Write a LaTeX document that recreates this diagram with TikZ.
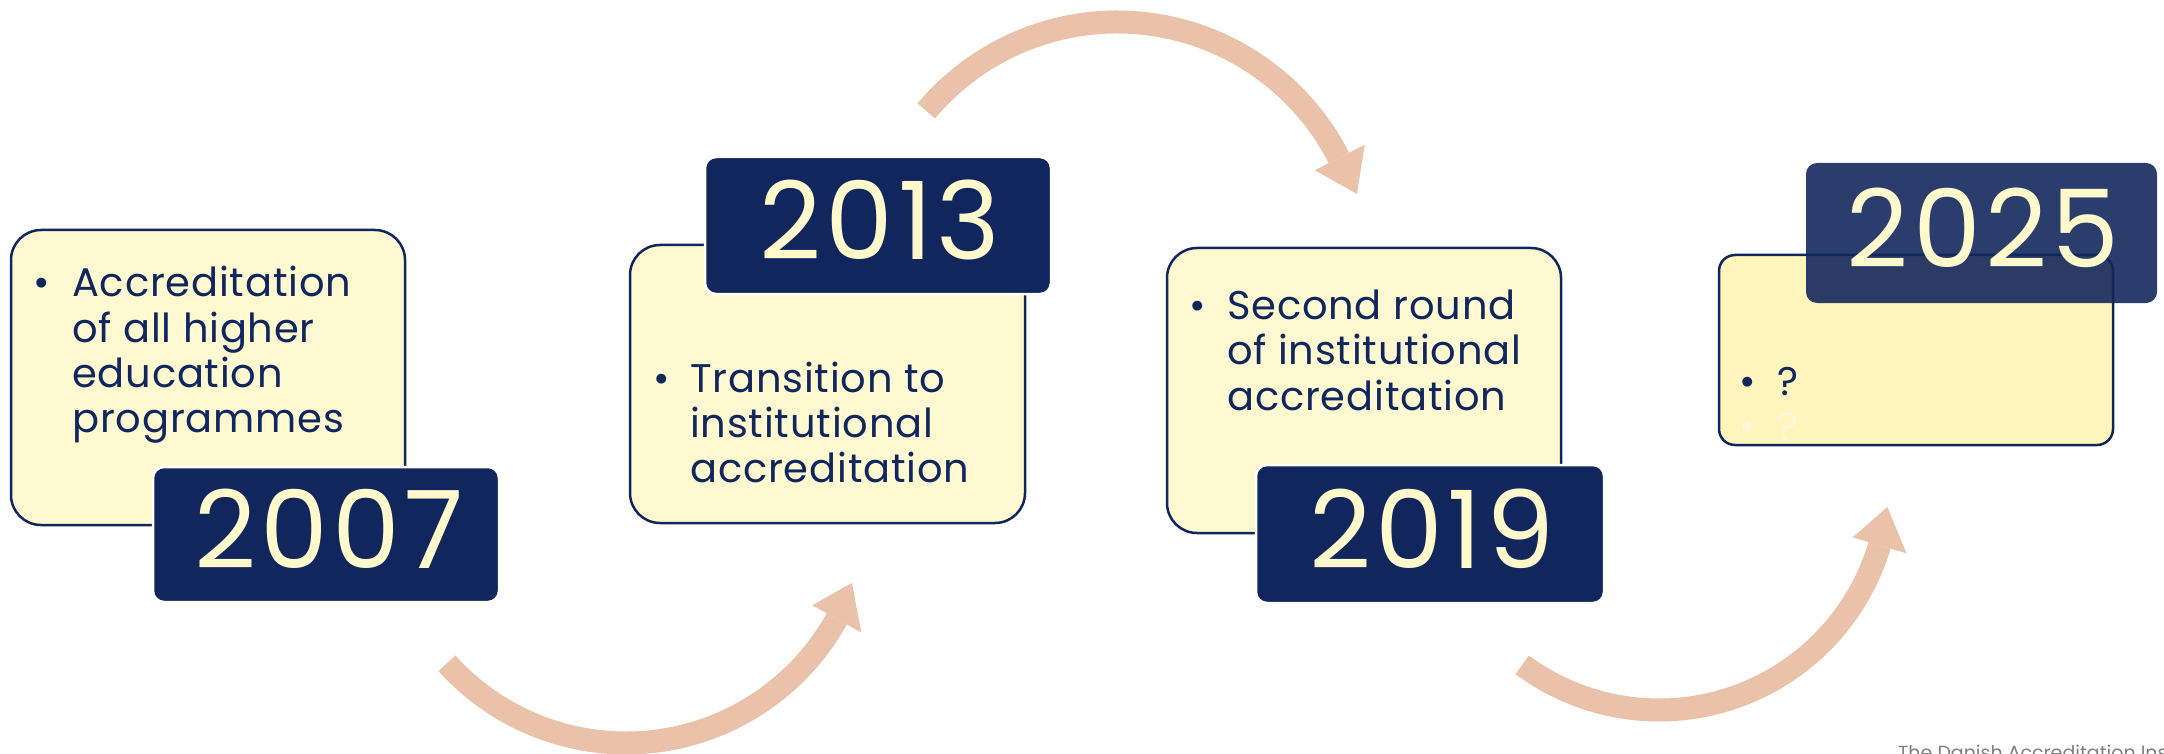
\documentclass[tikz,border=0pt]{standalone}
\usepackage{fontspec}
\setmainfont{Poppins}
\newfontfamily\bodyfont[LetterSpace=2]{Poppins}
\newfontfamily\yearfont[LetterSpace=4]{Poppins}
\usetikzlibrary{calc}

\definecolor{navy}{RGB}{16,38,92}
\definecolor{cream}{RGB}{255,249,210}
\definecolor{lemon}{RGB}{255,245,189}
\definecolor{ghost}{RGB}{255,249,218}
\definecolor{yeartext}{RGB}{255,249,204}
\definecolor{peach}{RGB}{233,194,169}
\definecolor{footgray}{RGB}{128,128,128}

\begin{document}
\begin{tikzpicture}[x=1pt,y=-1pt,
  card/.style={draw=navy, line width=2.5pt, fill=cream, rounded corners=30pt,
    anchor=north west, inner sep=0pt, outer sep=0pt},
  yearbox/.style={draw=white, line width=2.5pt, fill=navy, rounded corners=11pt,
    anchor=north west, inner sep=0pt, outer sep=0pt},
  yeartxt/.style={font=\yearfont\fontsize{108}{108}\selectfont, text=yeartext,
    anchor=base, inner sep=0pt},
  body/.style={font=\bodyfont\fontsize{40}{45}\selectfont, text=navy, anchor=base west, inner sep=0pt},
  bull/.style={font=\bodyfont\fontsize{40}{45}\selectfont, text=navy, anchor=base, inner sep=0pt},
  flow/.style={draw=peach, line width=23pt, line cap=butt},
  head/.style={fill=peach},
]
\clip (0,0) rectangle (2164,754);
\fill[white] (0,0) rectangle (2164,754);

% ---- 2007 ----
\node[card, minimum width=394pt, minimum height=295pt] (c1) at (11,230) {};
\node[bull] (b1) at (42,297) {•};
\foreach \ln [count=\i] in {Accreditation, of all higher, education, programmes}
  \node[body] (t1-\i) at (72,{297+45*(\i-1)}) {\ln};
\node[yearbox, minimum width=346pt, minimum height=135pt] (y1) at (153,467) {};
\node[yeartxt] (l1) at (329,568) {2007};

% ---- 2013 ----
\node[card, minimum width=395pt, minimum height=278pt] (c2) at (630,245) {};
\node[yearbox, minimum width=346pt, minimum height=137pt] (y2) at (705,157) {};
\node[yeartxt] (l2) at (880,260) {2013};
\node[bull] (b2) at (662,392) {•};
\foreach \ln [count=\i] in {Transition to, institutional, accreditation}
  \node[body] (t2-\i) at (690,{392+45*(\i-1)}) {\ln};

% ---- 2019 ----
\node[card, minimum width=394pt, minimum height=285pt] (c3) at (1167,248) {};
\node[bull] (b3) at (1198,319) {•};
\foreach \ln [count=\i] in {Second round, of institutional, accreditation}
  \node[body] (t3-\i) at (1227,{319+45.5*(\i-1)}) {\ln};
\node[yearbox, minimum width=348pt, minimum height=138pt] (y3) at (1256,465) {};
\node[yeartxt] (l3) at (1432,568) {2019};

% ---- 2025 ----
\node[card, fill=lemon, rounded corners=16pt, minimum width=394pt, minimum height=190pt] (c4) at (1719,255) {};
\node[bull] (b4) at (1748,395) {•};
\node[body] (t4) at (1777,395) {?};
\node[bull, text=ghost] (b4g) at (1748,440) {•};
\node[body, text=ghost] (t4g) at (1777,440) {?};
\node[yearbox, draw=none, fill opacity=0.89, text opacity=1, minimum width=351pt, minimum height=140pt] (y4) at (1806,163) {};
\node[yeartxt] (l4) at (1983,268) {2025};

% ---- curved arrows between the milestones ----
\coordinate (o1) at (626,502);
\draw[flow] (o1) ++(138:241) arc[start angle=138, end angle=29, radius=241];
\fill[head] ($(o1)+(29:213)$) -- ($(o1)+(19.7:240)$) -- ($(o1)+(29:269)$) -- cycle;

\coordinate (o2) at (1117,271);
\draw[flow] (o2) ++(220:249) arc[start angle=220, end angle=333, radius=249];
\fill[head] ($(o2)+(333:222)$) -- ($(o2)+(342.2:252)$) -- ($(o2)+(333:278)$) -- cycle;

\coordinate (o3) at (1659,480);
\draw[flow] (o3) ++(126.5:230) arc[start angle=126.5, end angle=16.5, radius=230];
\fill[head] ($(o3)+(16.5:202)$) -- ($(o3)+(6.75:230)$) -- ($(o3)+(16.5:258)$) -- cycle;

% ---- footer ----
\node[font=\fontsize{19}{19}\selectfont, text=footgray, anchor=north west, inner sep=0pt] (foot) at (1898,745) {The Danish Accreditation Institution};
\end{tikzpicture}
\end{document}
